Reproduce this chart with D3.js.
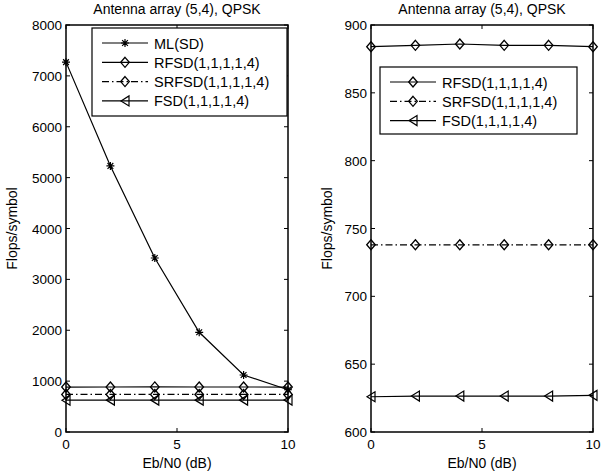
<!DOCTYPE html>
<html>
<head>
<meta charset="utf-8">
<script src="https://cdn.jsdelivr.net/npm/d3@7"></script>
<style>
  body { margin: 0; background: #fff; }
  svg text { font-family: "Liberation Sans", Arial, sans-serif; fill: #000; }
</style>
</head>
<body>
<svg id="chart" width="612" height="474"></svg>
<script>
const snr = [0, 2, 4, 6, 8, 10];
const mlSD = [7270, 5230, 3420, 1960, 1120, 830];
const rfsd = [884, 885, 886, 885, 885, 884];
const srfsd = [738, 738, 738, 738, 738, 738];
const fsd = [626, 626.5, 626.5, 626.5, 626.5, 627];

const xTicks = [0, 5, 10];
const leftYTicks = [0, 1000, 2000, 3000, 4000, 5000, 6000, 7000, 8000];
const rightYTicks = [600, 650, 700, 750, 800, 850, 900];

const titleText = "Antenna array (5,4), QPSK";
const xLabel = "Eb/N0 (dB)";
const yLabel = "Flops/symbol";

const svg = d3.select("#chart");

const seriesDefs = {
  ml: { name: "ML(SD)", values: mlSD, marker: "star", dash: null },
  rfsd: { name: "RFSD(1,1,1,1,4)", values: rfsd, marker: "diamond", dash: null },
  srfsd: { name: "SRFSD(1,1,1,1,4)", values: srfsd, marker: "diamond", dash: "7,3,1.5,3" },
  fsd: { name: "FSD(1,1,1,1,4)", values: fsd, marker: "triangle", dash: null }
};

function drawMarker(g, type, cx, cy) {
  if (type === "diamond") {
    const r = 5;
    g.append("path")
      .attr("d", `M${cx},${cy - r}L${cx + 4.3},${cy}L${cx},${cy + r}L${cx - 4.3},${cy}Z`)
      .attr("fill", "none").attr("stroke", "#000").attr("stroke-width", 1.3);
  } else if (type === "triangle") {
    g.append("path")
      .attr("d", `M${cx - 4},${cy}L${cx + 4},${cy - 5}L${cx + 4},${cy + 5}Z`)
      .attr("fill", "none").attr("stroke", "#000").attr("stroke-width", 1.2);
  } else if (type === "star") {
    const r = 4;
    let d = `M${cx - r},${cy}L${cx + r},${cy}M${cx},${cy - r}L${cx},${cy + r}`;
    const q = r * 0.72;
    d += `M${cx - q},${cy - q}L${cx + q},${cy + q}M${cx - q},${cy + q}L${cx + q},${cy - q}`;
    g.append("path").attr("d", d).attr("stroke", "#000").attr("stroke-width", 1.2);
  }
}

function drawPanel(opts) {
  const x = d3.scaleLinear().domain([0, 10]).range([opts.left, opts.right]);
  const y = d3.scaleLinear().domain(opts.yDomain).range([432, 25]);
  const g = svg.append("g");

  // series
  opts.keys.forEach(k => {
    const s = seriesDefs[k];
    const line = d3.line().x((d, i) => x(snr[i])).y(d => y(d));
    g.append("path")
      .datum(s.values)
      .attr("d", line)
      .attr("fill", "none")
      .attr("stroke", "#000")
      .attr("stroke-width", 1.2)
      .attr("stroke-dasharray", s.dash);
    s.values.forEach((v, i) => drawMarker(g, s.marker, x(snr[i]), y(v)));
  });

  // box and ticks
  g.append("rect")
    .attr("x", opts.left).attr("y", 25)
    .attr("width", opts.right - opts.left).attr("height", 432 - 25)
    .attr("fill", "none").attr("stroke", "#000").attr("stroke-width", 1.5);

  const tl = 4;
  xTicks.forEach(t => {
    g.append("line").attr("x1", x(t)).attr("x2", x(t)).attr("y1", 432).attr("y2", 432 - tl).attr("stroke", "#000");
    g.append("line").attr("x1", x(t)).attr("x2", x(t)).attr("y1", 25).attr("y2", 25 + tl).attr("stroke", "#000");
    g.append("text").attr("x", x(t)).attr("y", 449).attr("text-anchor", "middle")
      .attr("font-size", 13.5).text(t);
  });
  opts.yTicks.forEach(t => {
    g.append("line").attr("x1", opts.left).attr("x2", opts.left + tl).attr("y1", y(t)).attr("y2", y(t)).attr("stroke", "#000");
    g.append("line").attr("x1", opts.right).attr("x2", opts.right - tl).attr("y1", y(t)).attr("y2", y(t)).attr("stroke", "#000");
    g.append("text").attr("x", opts.left - 4).attr("y", y(t) + 5).attr("text-anchor", "end")
      .attr("font-size", 13.5).text(t);
  });

  g.append("text").attr("x", (opts.left + opts.right) / 2).attr("y", 14).attr("text-anchor", "middle")
    .attr("font-size", 14).text(titleText);
  g.append("text").attr("x", (opts.left + opts.right) / 2).attr("y", 468).attr("text-anchor", "middle")
    .attr("font-size", 14).text(xLabel);
  g.append("text")
    .attr("transform", `translate(${opts.yLabelX},${(25 + 432) / 2}) rotate(-90)`)
    .attr("text-anchor", "middle").attr("font-size", 14).text(yLabel);

  // legend
  const lg = g.append("g");
  const L = opts.legend;
  lg.append("rect").attr("x", L.x).attr("y", L.y).attr("width", L.w).attr("height", L.h)
    .attr("fill", "#fff").attr("stroke", "#000").attr("stroke-width", 1.2);
  opts.keys.forEach((k, i) => {
    const s = seriesDefs[k];
    const ly = L.y + 15 + i * 19.3;
    lg.append("line").attr("x1", L.x + 10).attr("x2", L.x + 56).attr("y1", ly).attr("y2", ly)
      .attr("stroke", "#000").attr("stroke-width", 1.2).attr("stroke-dasharray", s.dash);
    drawMarker(lg, s.marker, L.x + 33, ly);
    lg.append("text").attr("x", L.x + 62).attr("y", ly + 5.5).attr("font-size", 14.5).text(s.name);
  });
}

drawPanel({
  left: 66, right: 288, yDomain: [0, 8000], yTicks: leftYTicks, yLabelX: 17,
  keys: ["ml", "rfsd", "srfsd", "fsd"],
  legend: { x: 92, y: 28, w: 195, h: 88 }
});

drawPanel({
  left: 371, right: 593, yDomain: [600, 900], yTicks: rightYTicks, yLabelX: 332,
  keys: ["rfsd", "srfsd", "fsd"],
  legend: { x: 380, y: 67, w: 197, h: 67 }
});
</script>
</body>
</html>
